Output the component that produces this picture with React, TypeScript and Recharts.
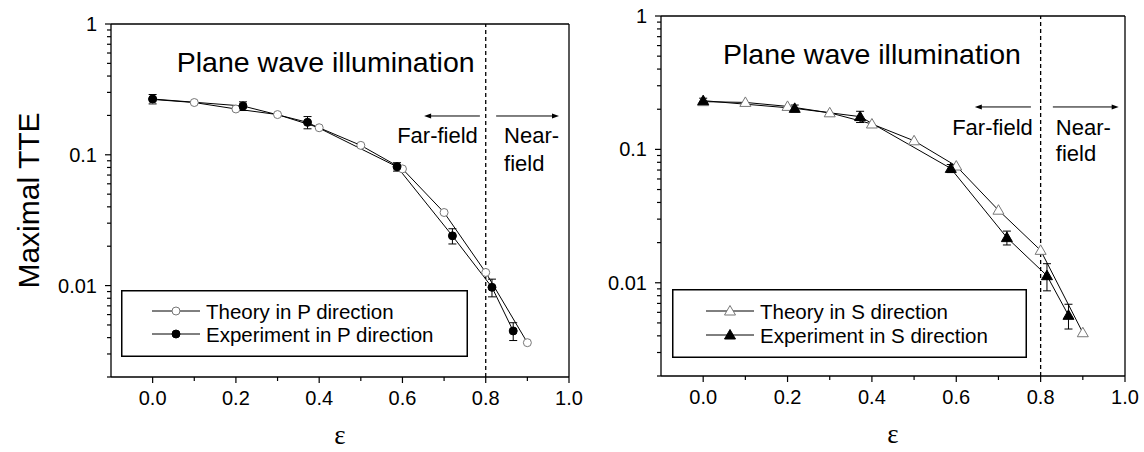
import { LineChart, Line, XAxis, YAxis, ErrorBar, ReferenceLine, ReferenceDot } from 'recharts'

// epsilon values
const EPS_THEORY = [0, 0.1, 0.2, 0.3, 0.4, 0.5, 0.6, 0.7, 0.8, 0.9]
const EPS_EXP = [0, 0.217, 0.372, 0.587, 0.72, 0.815, 0.866]

// P direction
const THEORY_P = [0.265, 0.251, 0.224, 0.203, 0.161, 0.118, 0.078, 0.0362, 0.0126, 0.00366]
const EXP_P = [0.267, 0.236, 0.177, 0.081, 0.024, 0.0097, 0.0045]
const EXP_P_ERR = [0.022, 0.018, 0.019, 0.006, 0.0032, 0.0015, 0.0007]

// S direction
const THEORY_S = [0.228, 0.225, 0.21, 0.188, 0.155, 0.116, 0.075, 0.035, 0.0175, 0.00422]
const EXP_S = [0.232, 0.203, 0.176, 0.072, 0.0218, 0.0113, 0.0057]
const EXP_S_ERR = [0.01, 0.012, 0.017, 0.005, 0.0026, 0.0026, 0.0012]

const X_TICKS = [0, 0.1, 0.2, 0.3, 0.4, 0.5, 0.6, 0.7, 0.8, 0.9, 1.0]
const Y_MAJOR = [0.01, 0.1, 1]
const Y_TICKS = [
  0.002, 0.003, 0.004, 0.005, 0.006, 0.007, 0.008, 0.009,
  0.01, 0.02, 0.03, 0.04, 0.05, 0.06, 0.07, 0.08, 0.09,
  0.1, 0.2, 0.3, 0.4, 0.5, 0.6, 0.7, 0.8, 0.9, 1
]

const SANS = '"Liberation Sans", Arial, sans-serif'

function XTick(props: any) {
  const { x, y, payload } = props
  const v = payload.value
  const major = Math.round(v * 10) % 2 === 0
  return (
    <g>
      <line x1={x} x2={x} y1={y} y2={y + (major ? 6 : 4)} stroke="#000" strokeWidth={1.2} />
      {major && (
        <text x={x} y={y + 28} textAnchor="middle" fontSize={20} fontFamily={SANS} fill="#000">
          {v.toFixed(1)}
        </text>
      )}
    </g>
  )
}

function YTick(props: any) {
  const { x, y, payload } = props
  const v = payload.value
  const major = Y_MAJOR.some(m => Math.abs(m - v) < 1e-9)
  return (
    <g>
      <line x1={x} x2={x - (major ? 6 : 4)} y1={y} y2={y} stroke="#000" strokeWidth={1.2} />
      {major && (
        <text x={x - 14} y={y} textAnchor="end" dominantBaseline="central" fontSize={20} fontFamily={SANS} fill="#000">
          {String(v)}
        </text>
      )}
    </g>
  )
}

function Arrow(props: any) {
  const { x1, y1, x2, y2 } = props
  const dir = x2 > x1 ? 1 : -1
  return (
    <g>
      <line x1={x1} y1={y1} x2={x2 - dir * 5} y2={y2} stroke="#000" strokeWidth={1} />
      <polygon points={`${x2},${y2} ${x2 - dir * 7},${y2 - 2.5} ${x2 - dir * 7},${y2 + 2.5}`} fill="#000" />
    </g>
  )
}

function textShape(label: string, anchor: string, size: number) {
  return (p: any) => (
    <text x={p.cx} y={p.cy} textAnchor={anchor} fontSize={size} fontFamily={SANS} fill="#000">
      {label}
    </text>
  )
}

function Marker({ cx, cy, kind, filled }: { cx: number; cy: number; kind: 'circle' | 'triangle'; filled: boolean }) {
  const fill = filled ? '#000' : '#fff'
  const stroke = filled ? '#000' : '#777'
  if (kind === 'circle') return <circle cx={cx} cy={cy} r={4} fill={fill} stroke={stroke} strokeWidth={1} />
  return (
    <polygon
      points={`${cx},${cy - 5.5} ${cx - 5.5},${cy + 4} ${cx + 5.5},${cy + 4}`}
      fill={fill}
      stroke={stroke}
      strokeWidth={1}
    />
  )
}

interface PanelProps {
  left: number
  width: number
  top: number
  right: number
  yAxisWidth: number
  xAxisHeight: number
  theory: number[]
  exp: number[]
  expErr: number[]
  kind: 'circle' | 'triangle'
  showYLabel: boolean
  title: [number, number]
  farField: [number, number]
  nearField: [number, number]
  fieldY: number
  arrowY: number
  arrowLeft: [number, number]
  arrowRight: [number, number]
}

function Panel(p: PanelProps) {
  const theoryData = EPS_THEORY.map((x, i) => ({ x, y: p.theory[i] }))
  const expData = EPS_EXP.map((x, i) => ({ x, y: p.exp[i], err: p.expErr[i] }))

  return (
    <div style={{ position: 'absolute', left: p.left, top: 0 }}>
      <LineChart width={p.width} height={452} margin={{ top: p.top, right: p.right, bottom: 0, left: 0 }}>
        <XAxis
          dataKey="x"
          type="number"
          domain={[-0.1, 1]}
          ticks={X_TICKS}
          interval={0}
          allowDataOverflow
          height={p.xAxisHeight}
          axisLine={{ stroke: '#000', strokeWidth: 1.3 }}
          tickLine={false}
          tickSize={0}
          tickMargin={0}
          tick={<XTick />}
          label={{
            content: (lp: any) => {
              const vb = lp.viewBox
              return (
                <text x={vb.x + vb.width / 2} y={vb.y + 67} textAnchor="middle" fontSize={27} fontFamily='"Liberation Serif", serif' fill="#000">
                  ε
                </text>
              )
            }
          }}
        />
        <YAxis
          type="number"
          scale="log"
          domain={[0.002, 1]}
          ticks={Y_TICKS}
          interval={0}
          allowDataOverflow
          width={p.yAxisWidth}
          axisLine={{ stroke: '#000', strokeWidth: 1.3 }}
          tickLine={false}
          tickSize={0}
          tickMargin={0}
          tick={<YTick />}
          label={
            p.showYLabel
              ? {
                  content: (lp: any) => {
                    const vb = lp.viewBox
                    const cx = vb.x + 28
                    const cy = vb.y + vb.height / 2
                    return (
                      <text
                        x={cx}
                        y={cy}
                        transform={`rotate(-90, ${cx}, ${cy})`}
                        textAnchor="middle"
                        dominantBaseline="central"
                        fontSize={30}
                        fontFamily={SANS}
                        fill="#000"
                      >
                        Maximal TTE
                      </text>
                    )
                  }
                }
              : undefined
          }
        />
        <ReferenceLine y={1} stroke="#000" strokeWidth={1.3} />
        <ReferenceLine x={1} stroke="#000" strokeWidth={1.3} />
        <ReferenceLine x={0.8} stroke="#000" strokeWidth={1.3} strokeDasharray="4 3" />

        <ReferenceDot x={p.title[0]} y={p.title[1]} r={0} shape={textShape('Plane wave illumination', 'start', 28.5)} />
        <ReferenceDot x={p.farField[0]} y={p.farField[1]} r={0} shape={textShape('Far-field', 'end', 22)} />
        <ReferenceDot x={p.nearField[0]} y={p.nearField[1]} r={0} shape={textShape('Near-', 'start', 22)} />
        <ReferenceDot x={p.nearField[0]} y={p.fieldY} r={0} shape={textShape('field', 'start', 22)} />
        <ReferenceLine
          segment={[{ x: p.arrowLeft[0], y: p.arrowY }, { x: p.arrowLeft[1], y: p.arrowY }]}
          shape={(sp: any) => <Arrow {...sp} />}
        />
        <ReferenceLine
          segment={[{ x: p.arrowRight[0], y: p.arrowY }, { x: p.arrowRight[1], y: p.arrowY }]}
          shape={(sp: any) => <Arrow {...sp} />}
        />

        <Line
          data={theoryData}
          dataKey="y"
          stroke="#000"
          strokeWidth={1}
          isAnimationActive={false}
          activeDot={false}
          dot={(d: any) => <Marker key={`t${d.index}`} cx={d.cx} cy={d.cy} kind={p.kind} filled={false} />}
        />
        <Line
          data={expData}
          dataKey="y"
          stroke="#000"
          strokeWidth={1}
          isAnimationActive={false}
          activeDot={false}
          dot={(d: any) => <Marker key={`e${d.index}`} cx={d.cx} cy={d.cy} kind={p.kind} filled />}
        >
          <ErrorBar dataKey="err" direction="y" width={4} stroke="#000" strokeWidth={1} isAnimationActive={false} />
        </Line>
      </LineChart>
    </div>
  )
}

function LegendBox({
  left,
  top,
  width,
  height,
  rows,
  lineX,
  textX,
  kind,
  labels
}: {
  left: number
  top: number
  width: number
  height: number
  rows: [number, number]
  lineX: [number, number]
  textX: number
  kind: 'circle' | 'triangle'
  labels: [string, string]
}) {
  const mid = (lineX[0] + lineX[1]) / 2
  return (
    <svg style={{ position: 'absolute', left, top }} width={width} height={height}>
      <rect x={0.75} y={0.75} width={width - 1.5} height={height - 1.5} fill="#fff" stroke="#000" strokeWidth={1.5} />
      {rows.map((ry, i) => (
        <g key={i}>
          <line x1={lineX[0]} x2={lineX[1]} y1={ry} y2={ry} stroke="#000" strokeWidth={1} />
          <Marker cx={mid} cy={ry} kind={kind} filled={i === 1} />
          <text x={textX} y={ry} dominantBaseline="central" fontSize={20.5} fontFamily={SANS} fill="#000">
            {labels[i]}
          </text>
        </g>
      ))}
    </svg>
  )
}

export default function App() {
  return (
    <div style={{ position: 'absolute', left: 0, top: 0, width: 1144, height: 452, background: '#fff' }}>
      <Panel
        left={0}
        width={600}
        top={24}
        right={31}
        yAxisWidth={111}
        xAxisHeight={75}
        theory={THEORY_P}
        exp={EXP_P}
        expErr={EXP_P_ERR}
        kind="circle"
        showYLabel
        title={[0.058, 0.43]}
        farField={[0.781, 0.123]}
        nearField={[0.844, 0.123]}
        fieldY={0.0752}
        arrowY={0.198}
        arrowLeft={[0.786, 0.652]}
        arrowRight={[0.825, 0.976]}
      />
      <Panel
        left={580}
        width={564}
        top={16}
        right={19}
        yAxisWidth={81}
        xAxisHeight={76}
        theory={THEORY_S}
        exp={EXP_S}
        expErr={EXP_S_ERR}
        kind="triangle"
        showYLabel={false}
        title={[0.047, 0.44]}
        farField={[0.7815, 0.128]}
        nearField={[0.836, 0.128]}
        fieldY={0.0817}
        arrowY={0.208}
        arrowLeft={[0.777, 0.644]}
        arrowRight={[0.829, 0.985]}
      />
      <LegendBox
        left={121}
        top={290}
        width={347}
        height={67}
        rows={[21, 44]}
        lineX={[31, 79]}
        textX={85}
        kind="circle"
        labels={['Theory in P direction', 'Experiment in P direction']}
      />
      <LegendBox
        left={672}
        top={289}
        width={355}
        height={69}
        rows={[22, 46]}
        lineX={[34, 82]}
        textX={88}
        kind="triangle"
        labels={['Theory in S direction', 'Experiment in S direction']}
      />
    </div>
  )
}
